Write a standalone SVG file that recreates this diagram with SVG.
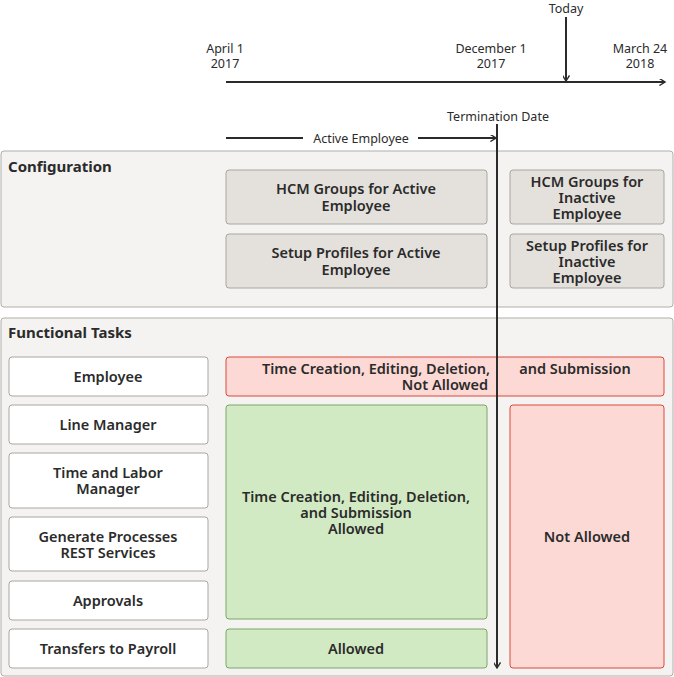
<svg xmlns="http://www.w3.org/2000/svg" width="674" height="677" viewBox="0 0 674 677">
<style>
text{font-family:"Noto Sans","Liberation Sans",sans-serif;fill:#2b2b2b}
.t{font-size:12.5px;text-anchor:middle}
.b{font-size:14.5px;font-weight:600;text-anchor:middle}
.h{font-size:15px;font-weight:700}
.panel{fill:#f4f3f1;stroke:#b0aeab;stroke-width:1}
.gray{fill:#e4e1dc;stroke:#a9a6a1}
.white{fill:#fff;stroke:#a9a6a1}
.red{fill:#fdd9d5;stroke:#d9483b}
.green{fill:#d2eac3;stroke:#7da56a}
.ln{stroke:#2b2b2b;stroke-width:2;fill:none}
</style>
<defs><marker id="a" viewBox="0 0 10 10" refX="9" refY="5" markerWidth="7" markerHeight="7" orient="auto" markerUnits="userSpaceOnUse"><path d="M1,0 L9,5 L1,10" fill="none" stroke="#2b2b2b" stroke-width="2"/></marker></defs>
<g id="timeline-labels">
<text class="t" x="225" y="53">April 1</text><text class="t" x="225" y="68">2017</text>
<text class="t" x="491" y="53">December 1</text><text class="t" x="491" y="68">2017</text>
<text class="t" x="640" y="53">March 24</text><text class="t" x="640" y="68">2018</text>
<text class="t" x="566" y="13">Today</text>
<text class="t" x="498" y="121">Termination Date</text>
</g>
<g id="configuration">
<rect class="panel" x="1" y="151" width="672" height="156" rx="3"/>
<text class="h" x="8" y="172">Configuration</text>
<rect class="gray" x="226" y="170" width="261" height="54" rx="3"/><text class="b" x="356" y="194">HCM Groups for Active</text><text class="b" x="356" y="211">Employee</text>
<rect class="gray" x="226" y="234" width="261" height="54" rx="3"/><text class="b" x="356" y="258">Setup Profiles for Active</text><text class="b" x="356" y="275">Employee</text>
<rect class="gray" x="510" y="170" width="154" height="54" rx="3"/><text class="b" x="587" y="187">HCM Groups for</text><text class="b" x="587" y="203">Inactive</text><text class="b" x="587" y="219">Employee</text>
<rect class="gray" x="510" y="234" width="154" height="54" rx="3"/><text class="b" x="587" y="251">Setup Profiles for</text><text class="b" x="587" y="267">Inactive</text><text class="b" x="587" y="283">Employee</text>
</g>
<g id="functional">
<rect class="panel" x="1" y="318" width="672" height="358" rx="3"/>
<text class="h" x="8" y="338">Functional Tasks</text>
<rect class="white" x="9" y="357" width="199" height="39" rx="3"/><text class="b" x="108" y="382">Employee</text>
<rect class="white" x="9" y="405" width="199" height="39" rx="3"/><text class="b" x="108" y="430">Line Manager</text>
<rect class="white" x="9" y="453" width="199" height="55" rx="3"/><text class="b" x="108" y="478">Time and Labor</text><text class="b" x="108" y="494">Manager</text>
<rect class="white" x="9" y="517" width="199" height="54" rx="3"/><text class="b" x="108" y="542">Generate Processes</text><text class="b" x="108" y="558">REST Services</text>
<rect class="white" x="9" y="581" width="199" height="39" rx="3"/><text class="b" x="108" y="606">Approvals</text>
<rect class="white" x="9" y="629" width="199" height="39" rx="3"/><text class="b" x="108" y="654">Transfers to Payroll</text>
<rect class="red" x="226" y="357" width="438" height="39" rx="3"/>
<text class="b" x="376" y="374">Time Creation, Editing, Deletion,</text><text class="b" x="575" y="374">and Submission</text><text class="b" x="445" y="390">Not Allowed</text>
<rect class="green" x="226" y="405" width="261" height="214" rx="3"/>
<text class="b" x="356" y="502">Time Creation, Editing, Deletion,</text><text class="b" x="356" y="518">and Submission</text><text class="b" x="356" y="534">Allowed</text>
<rect class="green" x="226" y="629" width="261" height="39" rx="3"/><text class="b" x="356" y="654">Allowed</text>
<rect class="red" x="510" y="405" width="154" height="263" rx="3"/><text class="b" x="587" y="542">Not Allowed</text>
</g>
<g id="connectors">
<line class="ln" x1="226" y1="82" x2="665" y2="82" marker-end="url(#a)"/>
<line class="ln" x1="566" y1="17" x2="566" y2="81" marker-end="url(#a)"/>
<line class="ln" x1="226" y1="138" x2="303" y2="138"/>
<text class="t" x="361" y="143">Active Employee</text>
<line class="ln" x1="418" y1="138" x2="496" y2="138" marker-end="url(#a)"/>
<line class="ln" x1="497" y1="124" x2="497" y2="668" marker-end="url(#a)"/>
</g>
</svg>
